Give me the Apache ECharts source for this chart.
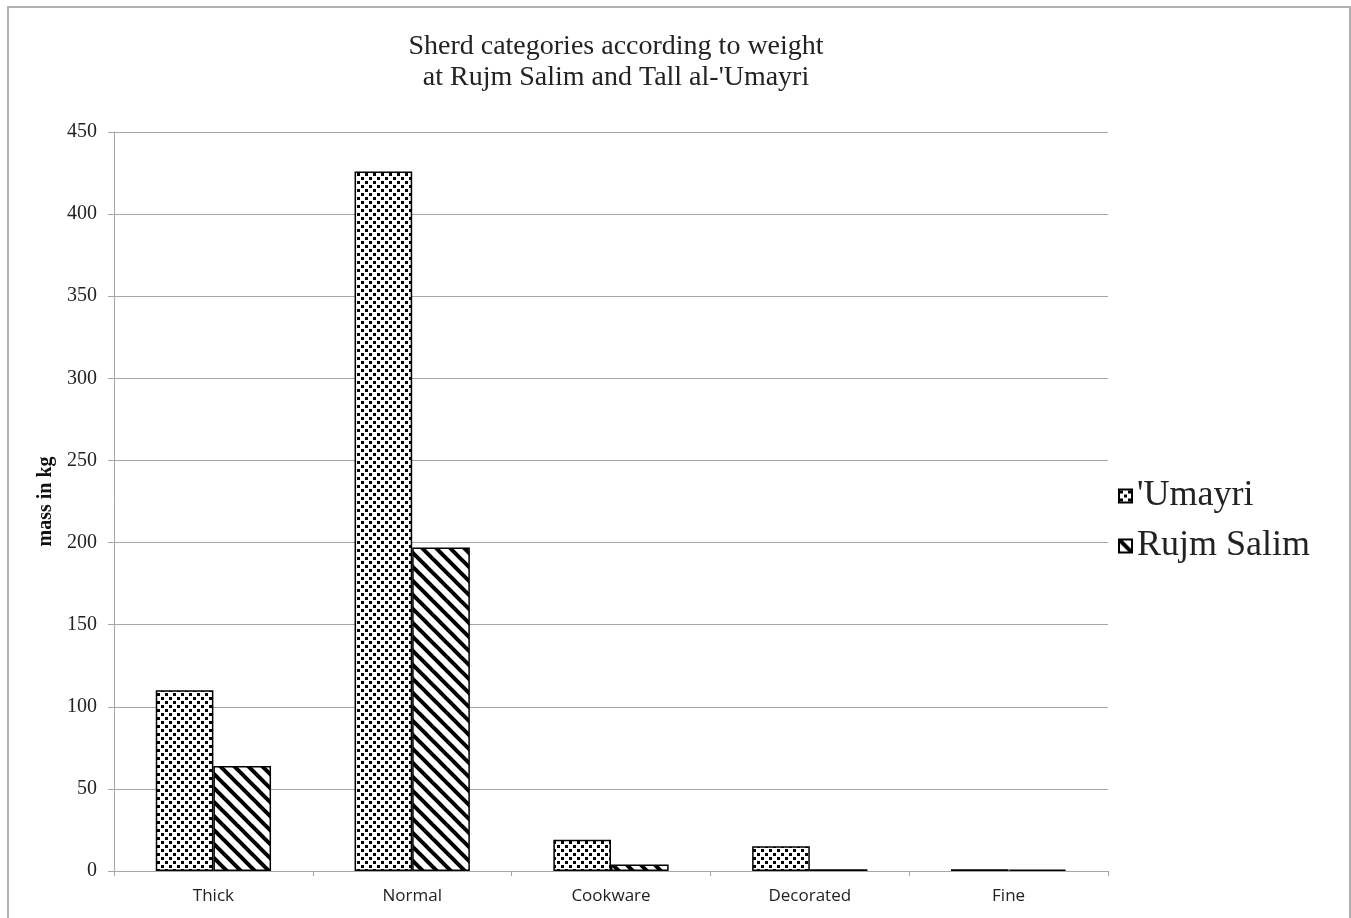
<!DOCTYPE html>
<html>
<head>
<meta charset="utf-8">
<script src="https://cdn.jsdelivr.net/npm/echarts@6/dist/echarts.min.js"></script>
<style>
  html, body { margin: 0; padding: 0; background: #fff; }
  #chart { width: 1351px; height: 918px; }
</style>
</head>
<body>
<div id="chart"></div>
<script>
// Sherd weights (kg) by category
const categories = ['Thick', 'Normal', 'Cookware', 'Decorated', 'Fine'];
const umayri = [110, 426, 19, 15, 1];
const rujmSalim = [64, 197, 4, 1, 0.8];
const seriesNames = ["'Umayri", 'Rujm Salim'];
const yTicks = { min: 0, max: 450, interval: 50 };

// Confetti-style dot fill
function dotPattern() {
  const c = document.createElement('canvas');
  c.width = 8; c.height = 8;
  const g = c.getContext('2d');
  g.fillStyle = '#fff';
  g.fillRect(0, 0, 8, 8);
  g.fillStyle = '#000';
  g.fillRect(1, 1, 3, 3);
  g.fillRect(5, 5, 3, 3);
  return c;
}

// Wide downward-diagonal stripes
function stripePattern() {
  const s = 14;
  const c = document.createElement('canvas');
  c.width = s; c.height = s;
  const g = c.getContext('2d');
  g.fillStyle = '#fff';
  g.fillRect(0, 0, s, s);
  g.strokeStyle = '#000';
  g.lineWidth = 4;
  [-s, 0, s].forEach(function (d) {
    g.beginPath();
    g.moveTo(d - 2, -2);
    g.lineTo(d + s + 2, s + 2);
    g.stroke();
  });
  return c;
}

const chart = echarts.init(document.getElementById('chart'), null, { renderer: 'canvas' });
const serif = '"Liberation Serif", "Times New Roman", serif';
const sans = '"Open Sans", "Liberation Sans", sans-serif';
const axisGray = '#a6a6a6';

chart.setOption({
  backgroundColor: '#fff',
  animation: false,
  title: {
    text: "Sherd categories according to weight\nat Rujm Salim and Tall al-'Umayri",
    left: 611,
    top: 26,
    textAlign: 'center',
    textStyle: { fontFamily: serif, fontSize: 28, fontWeight: 'normal', color: '#222', lineHeight: 31 }
  },
  legend: {
    orient: 'vertical',
    left: 1118,
    top: 478,
    padding: 0,
    itemWidth: 13,
    itemHeight: 13,
    itemGap: 14,
    icon: 'rect',
    textStyle: { fontFamily: serif, fontSize: 36, color: '#222' },
    data: seriesNames
  },
  grid: { left: 114, right: 243, top: 132, bottom: 47 },
  xAxis: {
    type: 'category',
    data: categories,
    axisLine: { lineStyle: { color: axisGray, width: 1 } },
    axisTick: { show: true, length: 5, lineStyle: { color: axisGray } },
    axisLabel: { fontFamily: sans, fontSize: 17, color: '#222', margin: 17 }
  },
  yAxis: {
    type: 'value',
    min: yTicks.min,
    max: yTicks.max,
    interval: yTicks.interval,
    name: 'mass in kg',
    nameLocation: 'middle',
    nameGap: 55,
    nameRotate: 90,
    nameTextStyle: { fontFamily: serif, fontSize: 20, fontWeight: 'bold', color: '#111' },
    axisLine: { show: true, lineStyle: { color: axisGray, width: 1 } },
    axisTick: { show: true, length: 6, lineStyle: { color: axisGray } },
    axisLabel: { fontFamily: serif, fontSize: 20, color: '#222', margin: 17 },
    splitLine: { lineStyle: { color: axisGray, width: 1 } }
  },
  series: [
    {
      name: seriesNames[0],
      type: 'bar',
      data: umayri,
      barGap: '0%',
      barCategoryGap: '42%',
      itemStyle: { color: { image: dotPattern(), repeat: 'repeat' }, borderColor: '#000', borderWidth: 1.5 }
    },
    {
      name: seriesNames[1],
      type: 'bar',
      data: rujmSalim,
      barGap: '0%',
      barCategoryGap: '42%',
      itemStyle: { color: { image: stripePattern(), repeat: 'repeat' }, borderColor: '#000', borderWidth: 1.5 }
    }
  ],
  graphic: [
    {
      type: 'rect',
      silent: true,
      shape: { x: 8, y: 7, width: 1342, height: 930 },
      style: { fill: null, stroke: '#b0b0b0', lineWidth: 2 }
    }
  ]
});
</script>
</body>
</html>
